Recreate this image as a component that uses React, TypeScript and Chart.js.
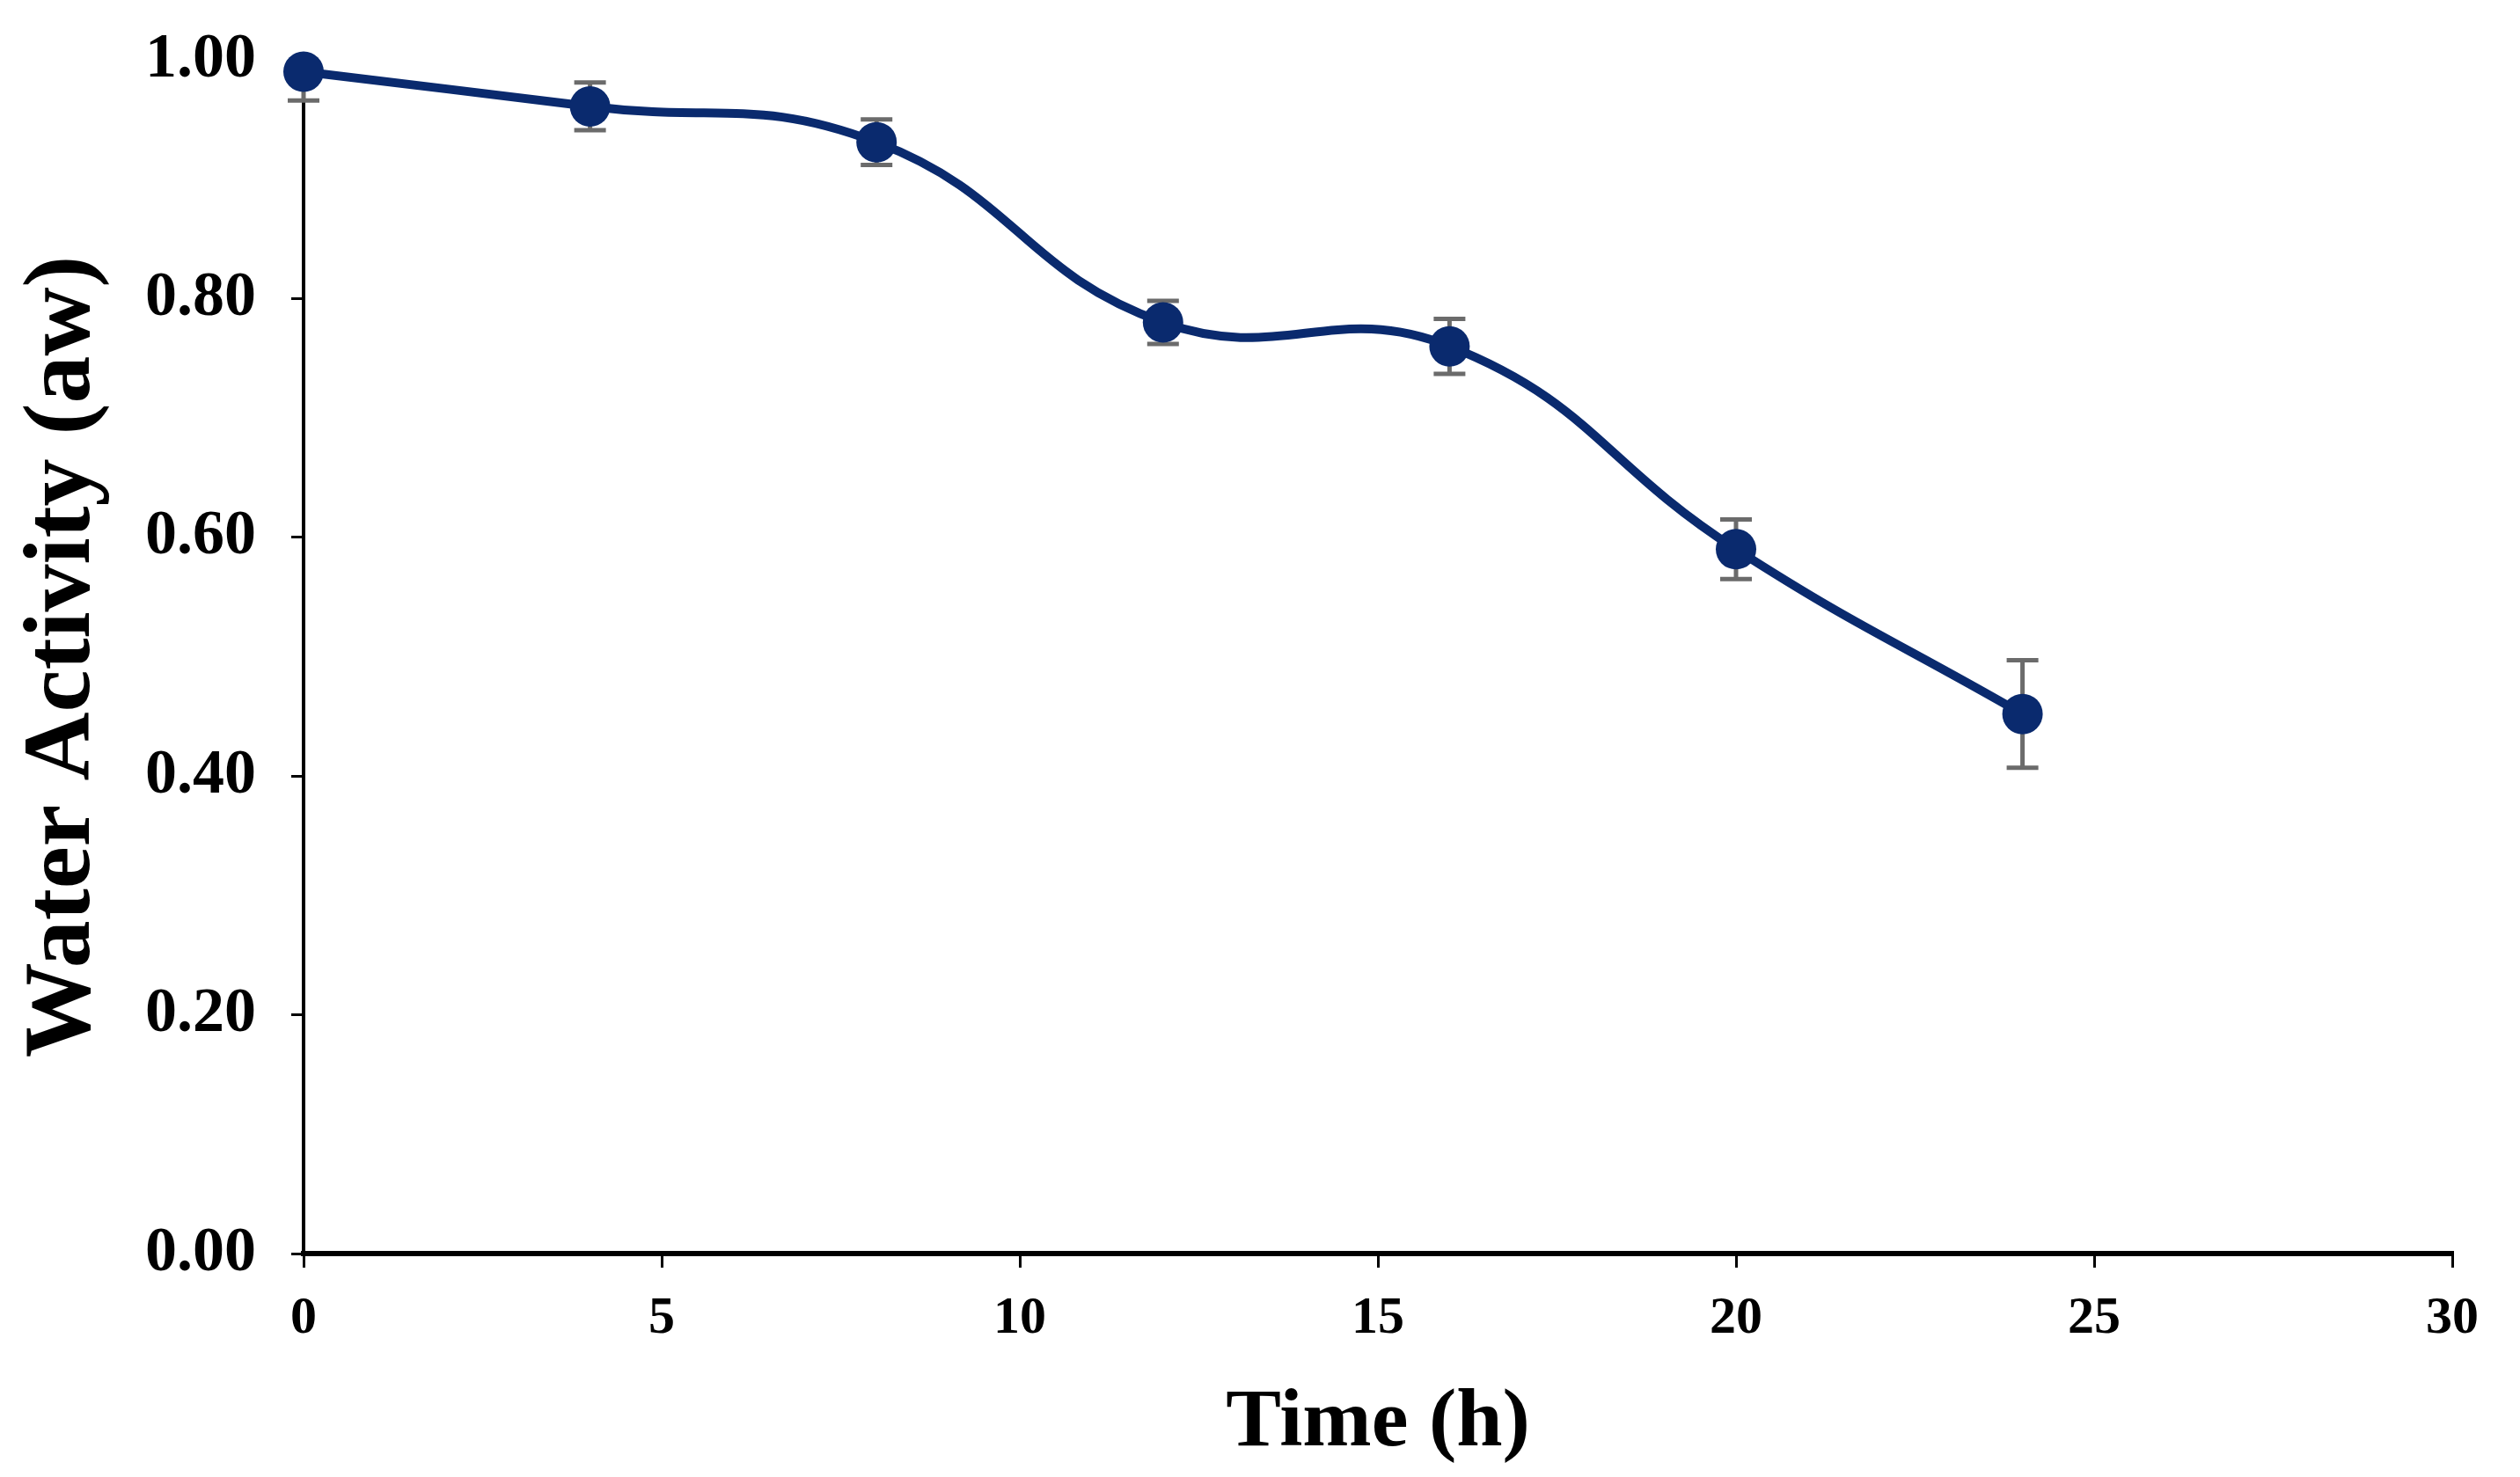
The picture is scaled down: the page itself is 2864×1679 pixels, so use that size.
import React, { useEffect, useRef } from "react";
import { Chart, registerables } from "chart.js";

Chart.register(...registerables);

// ---- data ----
const times = [0, 4, 8, 12, 16, 20, 24];
const waterActivity = [0.99, 0.961, 0.931, 0.78, 0.76, 0.59, 0.452];
const errorValues = [0.024, 0.02, 0.019, 0.018, 0.023, 0.025, 0.045];
const xTickValues = [0, 5, 10, 15, 20, 25, 30];
const yTickValues = [0, 0.2, 0.4, 0.6, 0.8, 1.0];
const xTitle = "Time (h)";
const yTitle = "Water Activity (aw)";

const NAVY = "#0a2a6e";
const GREY = "#6b6b6b";

const errorBarPlugin = {
  id: "errorBars",
  beforeDatasetsDraw(chart: any) {
    const { ctx, scales, chartArea } = chart;
    const xs = scales.x;
    const ys = scales.y;
    ctx.save();
    ctx.beginPath();
    ctx.rect(0, chartArea.top, chart.width, chart.height - chartArea.top);
    ctx.clip();
    ctx.strokeStyle = GREY;
    ctx.lineWidth = 5;
    const cap = 18;
    times.forEach((t, i) => {
      const px = xs.getPixelForValue(t);
      const hi = ys.getPixelForValue(waterActivity[i] + errorValues[i]);
      const lo = ys.getPixelForValue(waterActivity[i] - errorValues[i]);
      ctx.beginPath();
      ctx.moveTo(px, hi);
      ctx.lineTo(px, lo);
      ctx.moveTo(px - cap, hi);
      ctx.lineTo(px + cap, hi);
      ctx.moveTo(px - cap, lo);
      ctx.lineTo(px + cap, lo);
      ctx.stroke();
    });
    ctx.restore();
  },
};

export default function App() {
  const ref = useRef<HTMLCanvasElement | null>(null);

  useEffect(() => {
    if (!ref.current) return;
    const chart = new Chart(ref.current, {
      type: "line",
      data: {
        datasets: [
          {
            data: times.map((t, i) => ({ x: t, y: waterActivity[i] })),
            borderColor: NAVY,
            backgroundColor: NAVY,
            borderWidth: 10,
            pointRadius: 23,
            pointHoverRadius: 23,
            pointBorderWidth: 0,
            pointBackgroundColor: NAVY,
            tension: 0.45,
            clip: false as any,
            fill: false,
          },
        ],
      },
      options: {
        animation: false,
        responsive: false,
        devicePixelRatio: 1,
        layout: { padding: { top: 68, right: 77, left: 0, bottom: 0 } },
        plugins: {
          legend: { display: false },
          tooltip: { enabled: false },
        },
        scales: {
          x: {
            type: "linear",
            min: 0,
            max: 30,
            afterFit(scale: any) {
              scale.height = 254;
            },
            afterBuildTicks(scale: any) {
              scale.ticks = xTickValues.map((v) => ({ value: v }));
            },
            ticks: {
              color: "#000",
              padding: 22,
              font: { family: "Liberation Serif", weight: "bold", size: 60 },
              callback: (v: any) => String(v),
              maxRotation: 0,
            },
            grid: {
              display: true,
              drawOnChartArea: false,
              drawTicks: true,
              tickLength: 16,
              color: "#000",
              lineWidth: 3,
            },
            border: { display: true, color: "#000", width: 6 },
            title: {
              display: true,
              text: xTitle,
              color: "#000",
              font: { family: "Liberation Serif", weight: "bold", size: 94, lineHeight: 1 },
              padding: { top: 0, bottom: 13 },
            },
          },
          y: {
            type: "linear",
            min: 0,
            max: 1,
            afterFit(scale: any) {
              scale.width = 345;
              scale.paddingTop = 20;
              scale.paddingBottom = 20;
            },
            afterBuildTicks(scale: any) {
              scale.ticks = yTickValues.map((v) => ({ value: v }));
            },
            ticks: {
              color: "#000",
              padding: 40,
              font: { family: "Liberation Serif", weight: "bold", size: 72 },
              callback: (v: any) => Number(v).toFixed(2),
            },
            grid: {
              display: true,
              drawOnChartArea: false,
              drawTicks: true,
              tickLength: 14,
              color: "#000",
              lineWidth: 3,
            },
            border: { display: true, color: "#000", width: 4 },
            title: {
              display: true,
              text: yTitle,
              color: "#000",
              font: { family: "Liberation Serif", weight: "bold", size: 108, lineHeight: 1 },
              padding: { top: 19, bottom: 0 },
            },
          },
        },
      } as any,
      plugins: [errorBarPlugin],
    });
    return () => chart.destroy();
  }, []);

  return (
    <div style={{ position: "fixed", left: 0, top: 0, width: 2864, height: 1679, background: "#fff" }}>
      <canvas ref={ref} width={2864} height={1679} style={{ width: 2864, height: 1679, display: "block" }} />
    </div>
  );
}
